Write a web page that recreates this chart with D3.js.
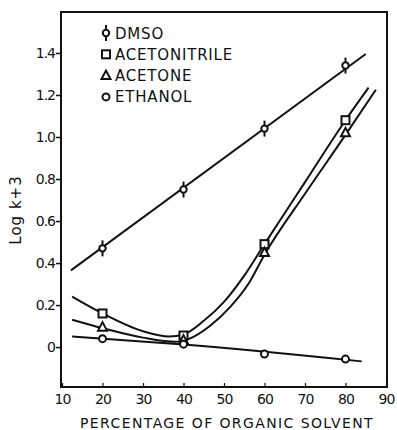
<!DOCTYPE html>
<html>
<head>
<meta charset="utf-8">
<script src="https://cdn.jsdelivr.net/npm/d3@7"></script>
<style>
  body { margin: 0; background: #fff; }
  text { font-family: "DejaVu Sans", sans-serif; fill: #111; }
</style>
</head>
<body>
<div id="chart"></div>
<script>
// measured points (percent, log k + 3)
const percents = [20, 40, 60, 80];
const dmso = [0.47, 0.75, 1.04, 1.34];
const acetonitrile = [0.16, 0.055, 0.49, 1.08];
const acetone = [0.095, 0.033, 0.45, 1.02];
const ethanol = [0.04, 0.014, -0.033, -0.057];

// drawn fit curves
const dmsoFit = [[12.2, 0.365], [85, 1.395]];
const acetonitrileFit = [[12.5, 0.24], [20, 0.16], [30, 0.075], [36.5, 0.05], [40, 0.06],
  [45, 0.125], [50, 0.215], [55, 0.34], [60, 0.49], [70, 0.785], [80, 1.08], [85.7, 1.235]];
const acetoneFit = [[12.5, 0.13], [20, 0.09], [30, 0.045], [38, 0.025], [41.5, 0.04],
  [46.5, 0.1], [51.5, 0.19], [56, 0.3], [60, 0.44], [70, 0.73], [80, 1.01], [87.5, 1.225]];
const ethanolFit = [[12.5, 0.05], [40, 0.012], [84, -0.068]];

const xTicks = [10, 20, 30, 40, 50, 60, 70, 80, 90];
const yTicks = [0, 0.2, 0.4, 0.6, 0.8, 1.0, 1.2, 1.4];
const legendNames = ["DMSO", "ACETONITRILE", "ACETONE", "ETHANOL"];

const width = 397, height = 430;
const plot = { left: 61, top: 12, right: 387, bottom: 387 };

const svg = d3.select("#chart").append("svg")
  .attr("width", width)
  .attr("height", height);

const x = d3.scaleLinear().domain([9.75, 90.25]).range([plot.left, plot.right]);
const y = d3.scaleLinear().domain([-0.19, 1.595]).range([plot.bottom, plot.top]);

const ink = "#111";

// frame
svg.append("rect")
  .attr("x", plot.left).attr("y", plot.top)
  .attr("width", plot.right - plot.left).attr("height", plot.bottom - plot.top)
  .attr("fill", "none").attr("stroke", ink).attr("stroke-width", 2);

// y axis
const yAxis = svg.append("g")
  .attr("transform", `translate(${plot.left},0)`)
  .call(d3.axisLeft(y).tickValues(yTicks).tickSize(5)
    .tickFormat(d => d === 0 ? "0" : d3.format(".1f")(d)));
yAxis.select(".domain").remove();
yAxis.selectAll("line").attr("stroke", ink).attr("stroke-width", 1.5);
yAxis.selectAll("text").attr("x", -6).style("font-size", "14px").style("letter-spacing", "-1px");

// x axis (inward ticks)
const xAxis = svg.append("g")
  .attr("transform", `translate(0,${plot.bottom})`)
  .call(d3.axisBottom(x).tickValues(xTicks).tickSize(-4).tickPadding(7));
xAxis.select(".domain").remove();
xAxis.selectAll("line").attr("stroke", ink).attr("stroke-width", 1.2);
xAxis.selectAll("text").style("font-size", "14px").style("letter-spacing", "-1px");

// axis titles
svg.append("text")
  .attr("transform", `translate(21,210) rotate(-90)`)
  .attr("text-anchor", "middle")
  .style("font-size", "15px")
  .style("letter-spacing", "1px")
  .text("Log k+3");

svg.append("text")
  .attr("x", 227).attr("y", 428)
  .attr("text-anchor", "middle")
  .style("font-size", "14px")
  .style("letter-spacing", "1.4px")
  .text("PERCENTAGE OF ORGANIC SOLVENT");

// curves
const line = d3.line().x(d => x(d[0])).y(d => y(d[1])).curve(d3.curveMonotoneX);
[dmsoFit, acetonitrileFit, acetoneFit, ethanolFit].forEach(pts => {
  svg.append("path")
    .datum(pts)
    .attr("fill", "none")
    .attr("stroke", ink)
    .attr("stroke-width", 2)
    .attr("d", line);
});

// markers
function drawMarker(g, kind, cx, cy) {
  if (kind === "DMSO") {
    g.append("line").attr("x1", cx).attr("x2", cx).attr("y1", cy - 8).attr("y2", cy + 8)
      .attr("stroke", ink).attr("stroke-width", 2);
    g.append("circle").attr("cx", cx).attr("cy", cy).attr("r", 3.2)
      .attr("fill", "#fff").attr("stroke", ink).attr("stroke-width", 2);
  } else if (kind === "ACETONITRILE") {
    g.append("rect").attr("x", cx - 4).attr("y", cy - 4).attr("width", 8).attr("height", 8)
      .attr("fill", "#fff").attr("stroke", ink).attr("stroke-width", 2);
  } else if (kind === "ACETONE") {
    g.append("path").attr("d", `M${cx},${cy - 5}L${cx + 4.5},${cy + 3.5}L${cx - 4.5},${cy + 3.5}Z`)
      .attr("fill", "#fff").attr("stroke", ink).attr("stroke-width", 2);
  } else {
    g.append("circle").attr("cx", cx).attr("cy", cy).attr("r", 3.5)
      .attr("fill", "#fff").attr("stroke", ink).attr("stroke-width", 2);
  }
}

const marks = svg.append("g");
const seriesValues = [dmso, acetonitrile, acetone, ethanol];
seriesValues.forEach((vals, i) => {
  vals.forEach((v, j) => drawMarker(marks, legendNames[i], x(percents[j]), y(v)));
});

// legend
const legend = svg.append("g");
legendNames.forEach((name, i) => {
  const ly = 33 + i * 21.3;
  drawMarker(legend, name, 106, ly);
  legend.append("text")
    .attr("x", 115).attr("y", ly + 5.5)
    .style("font-size", "15px")
    .style("letter-spacing", "0.8px")
    .text(name);
});
</script>
</body>
</html>
